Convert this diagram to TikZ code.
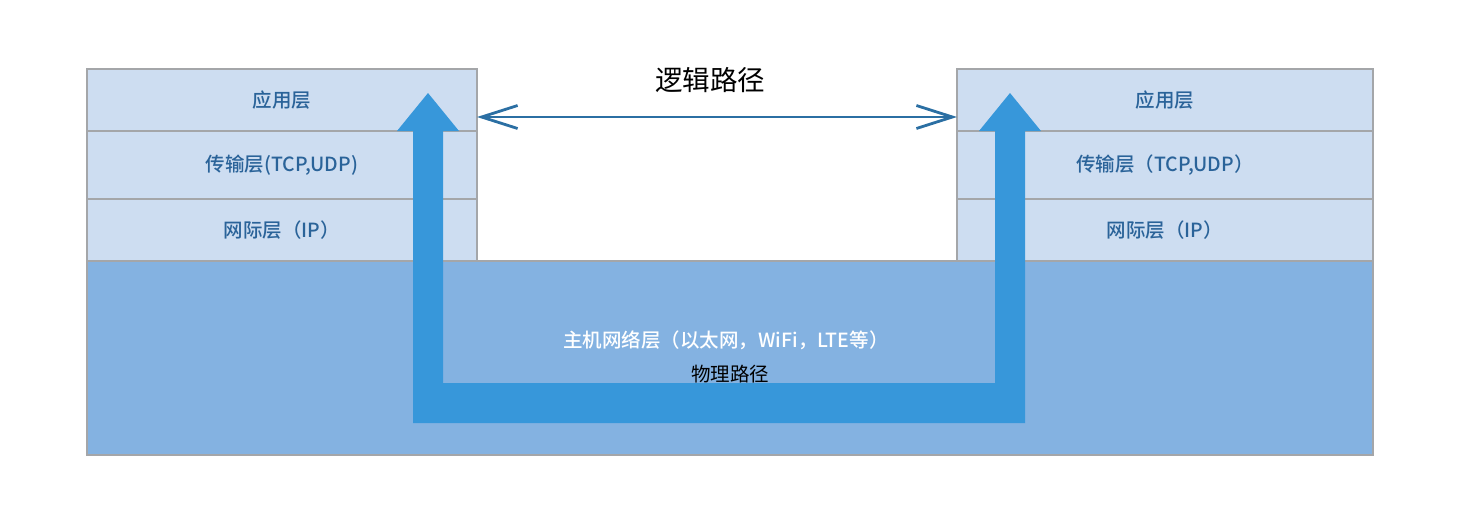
\documentclass[tikz,border=0pt]{standalone}
\usepackage{fontspec}
\newfontfamily\cjk{Noto Sans CJK SC}
\newfontfamily\cjkm{Noto Sans CJK SC Medium}
\usetikzlibrary{arrows.meta}
\definecolor{rowfill}{HTML}{CDDDF1}
\definecolor{rowline}{HTML}{A4A6A9}
\definecolor{netfill}{HTML}{84B2E1}
\definecolor{bigarrow}{HTML}{3797DA}
\definecolor{rowtext}{HTML}{2A6399}
\definecolor{logicline}{HTML}{2B6FA3}
\tikzset{
  layerbox/.style={draw=rowline, line width=1.3pt, fill=rowfill, inner sep=0pt, outer sep=0pt,
    minimum width=#1, text=rowtext, font=\cjkm\fontsize{19.5}{23}\selectfont},
  netbox/.style={draw=rowline, line width=1.3pt, fill=netfill, inner sep=0pt, outer sep=0pt},
  logic/.style={draw=logicline, line width=2.8pt,
    {Straight Barb[length=36pt,width=23pt,line width=2.8pt]}-{Straight Barb[length=36pt,width=23pt,line width=2.8pt]}},
  lbl/.style={inner sep=0pt, font=\cjk\fontsize{17}{20}\selectfont}
}
\begin{document}
\begin{tikzpicture}[x=1pt,y=-1pt]
\useasboundingbox (0,0) rectangle (1458,512);
% host network layer
\node[netbox, minimum width=1286pt, minimum height=194pt] (net) at (730,358) {};
% left stack
\node[layerbox=390pt, minimum height=62pt] (la) at (282,100) {应用层};
\node[layerbox=390pt, minimum height=68pt] (lt) at (282,165) {传输层(TCP,UDP)};
\node[layerbox=390pt, minimum height=62pt] (li) at (282,230) {网际层（IP）};
% right stack
\node[layerbox=416pt, minimum height=62pt] (ra) at (1165,100) {应用层};
\node[layerbox=416pt, minimum height=68pt] (rt) at (1165,165) {传输层（TCP,UDP）};
\node[layerbox=416pt, minimum height=62pt] (ri) at (1165,230) {网际层（IP）};
% physical path arrow
\fill[bigarrow] (397,131) -- (428,93) -- (459,131) -- (443,131) -- (443,383) -- (995,383)
  -- (995,131) -- (979,131) -- (1010,93) -- (1041,131) -- (1025,131) -- (1025,423)
  -- (413,423) -- (413,131) -- cycle;
% texts
\node[lbl, text=white, font=\cjkm\fontsize{19.5}{23}\selectfont] (nettext) at (726,340) {主机网络层（以太网，WiFi，LTE等）};
\node[lbl, text=black, font=\cjk\fontsize{19.5}{23}\selectfont] (phys) at (730,374) {物理路径};
\node[lbl, text=black, font=\cjk\fontsize{27.5}{32}\selectfont] (logtext) at (710,80) {逻辑路径};
% logical path
\coordinate (lp1) at (la.east |- 0,117);
\coordinate (lp2) at (ra.west |- 0,117);
\draw[logic] (lp1) -- (lp2);
\end{tikzpicture}
\end{document}
